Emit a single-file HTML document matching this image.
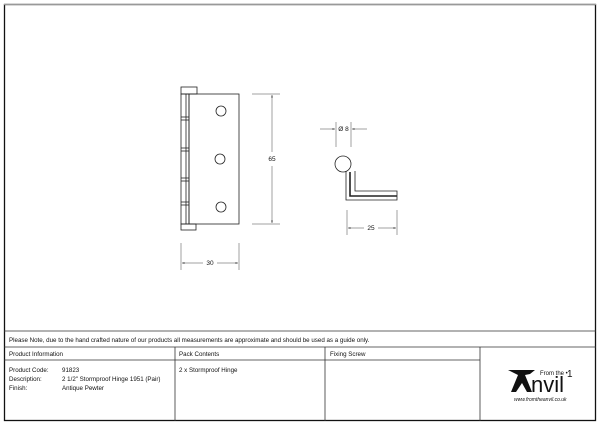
<!DOCTYPE html>
<html><head><meta charset="utf-8"><style>
html,body{margin:0;padding:0;background:#fff;width:600px;height:425px;overflow:hidden}
svg{display:block}
text{font-family:"Liberation Sans",sans-serif;fill:#111}
</style></head><body>
<svg width="600" height="425" viewBox="0 0 600 425" xmlns="http://www.w3.org/2000/svg">
<defs>
<marker id="a" viewBox="0 0 10 10" refX="10" refY="5" markerWidth="5" markerHeight="5" orient="auto-start-reverse"><path d="M0,2 L10,5 L0,8 z" fill="#222"/></marker>
</defs>
<rect x="4.5" y="4.5" width="591" height="416" fill="none" stroke="#111" stroke-width="1.3"/>
<line x1="4" y1="4.5" x2="596" y2="4.5" stroke="#999" stroke-width="1.3"/>
<g stroke="#333" stroke-width="0.8" fill="none">
<line x1="4" y1="331" x2="596" y2="331"/>
<line x1="4" y1="347" x2="596" y2="347"/>
<line x1="4" y1="360" x2="480" y2="360"/>
<line x1="175" y1="347" x2="175" y2="421"/>
<line x1="325" y1="347" x2="325" y2="421"/>
<line x1="480" y1="347" x2="480" y2="421"/>
</g>
<g font-size="6.2">
<text x="9" y="342">Please Note, due to the hand crafted nature of our products all measurements are approximate and should be used as a guide only.</text>
<text x="9" y="356">Product Information</text>
<text x="179" y="356">Pack Contents</text>
<text x="330" y="356">Fixing Screw</text>
<text x="9" y="372">Product Code:</text><text x="62" y="372">91823</text>
<text x="9" y="381">Description:</text><text x="62" y="381">2 1/2" Stormproof Hinge 1951 (Pair)</text>
<text x="9" y="390">Finish:</text><text x="62" y="390">Antique Pewter</text>
<text x="179" y="372">2 x Stormproof Hinge</text>
</g>
<!-- logo -->
<path d="M508,370 L535,370 L530,374 L525,375 L532,392 L527,392 L522,383 L516,392 L511,392 L518,375 Z" fill="#111"/>
<text x="540" y="375" font-family="Liberation Serif,serif" font-size="6">From the •</text>
<text x="567" y="377" font-family="Liberation Serif,serif" font-size="10">1</text>
<text x="531" y="392" font-family="Liberation Serif,serif" font-size="22">nvil</text>
<text x="514" y="401" font-family="Liberation Serif,serif" font-size="5" font-style="italic">www.fromtheanvil.co.uk</text>
<g stroke="#222" stroke-width="0.8" fill="none">
<rect x="189" y="94" width="50" height="130"/>
<rect x="181" y="87" width="16" height="7"/>
<rect x="181" y="224" width="15" height="6"/>
<rect x="181" y="94" width="8" height="130"/>
<line x1="186" y1="94" x2="186" y2="224"/>
<line x1="181" y1="117" x2="189" y2="117"/>
<line x1="181" y1="120" x2="189" y2="120"/>
<line x1="181" y1="148" x2="189" y2="148"/>
<line x1="181" y1="151" x2="189" y2="151"/>
<line x1="181" y1="178" x2="189" y2="178"/>
<line x1="181" y1="181" x2="189" y2="181"/>
<line x1="181" y1="202" x2="189" y2="202"/>
<line x1="181" y1="205" x2="189" y2="205"/>
<circle cx="221" cy="111" r="5"/>
<circle cx="220" cy="159" r="5"/>
<circle cx="221" cy="207" r="5"/>
</g>
<g stroke="#444" stroke-width="0.5" fill="none">
<line x1="252" y1="94" x2="280" y2="94"/>
<line x1="252" y1="224" x2="280" y2="224"/>
<line x1="272" y1="95" x2="272" y2="152" marker-start="url(#a)"/>
<line x1="272" y1="166" x2="272" y2="223" marker-end="url(#a)"/>
<line x1="181" y1="243" x2="181" y2="270"/>
<line x1="239" y1="243" x2="239" y2="270"/>
<line x1="182" y1="263" x2="203" y2="263" marker-start="url(#a)"/>
<line x1="217" y1="263" x2="238" y2="263" marker-end="url(#a)"/>
</g>
<text x="272" y="161" font-size="6.5" text-anchor="middle">65</text>
<text x="210" y="265" font-size="6.5" text-anchor="middle">30</text>
<g stroke="#222" stroke-width="0.8" fill="none">
<circle cx="343" cy="164" r="8"/>
<path d="M346,171 L346,200 L397,200 L397,191 L355,191 L355,171"/>
<path d="M350,172 L350,196 L397,196" stroke-width="1.6"/>
</g>
<g stroke="#444" stroke-width="0.5" fill="none">
<line x1="336" y1="122" x2="336" y2="147"/>
<line x1="351" y1="122" x2="351" y2="147"/>
<line x1="320" y1="129" x2="335" y2="129" marker-end="url(#a)"/>
<line x1="367" y1="129" x2="352" y2="129" marker-end="url(#a)"/>
<line x1="347" y1="210" x2="347" y2="235"/>
<line x1="397" y1="210" x2="397" y2="235"/>
<line x1="348" y1="228" x2="364" y2="228" marker-start="url(#a)"/>
<line x1="378" y1="228" x2="396" y2="228" marker-end="url(#a)"/>
</g>
<text x="343.5" y="131" font-size="6.5" text-anchor="middle">Ø 8</text>
<text x="371" y="230" font-size="6.5" text-anchor="middle">25</text>
</svg>
</body></html>
